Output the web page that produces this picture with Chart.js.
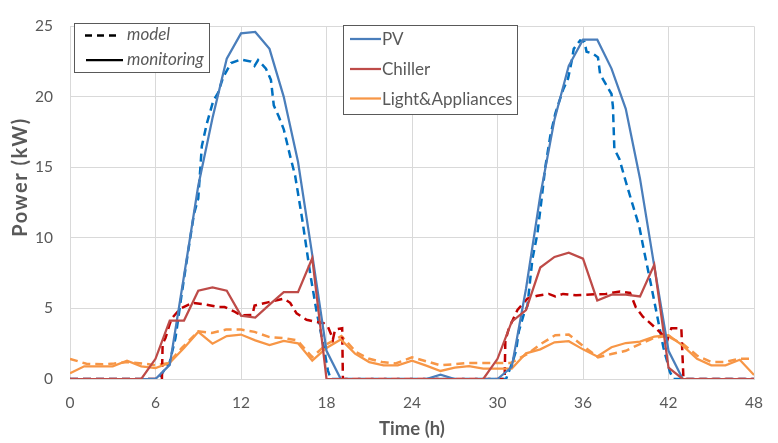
<!DOCTYPE html>
<html>
<head>
<meta charset="utf-8">
<script src="https://cdn.jsdelivr.net/npm/chart.js@4/dist/chart.umd.min.js"></script>
<style>
  html, body { margin: 0; padding: 0; background: #ffffff; }
  #wrap { width: 778px; height: 443px; }
</style>
</head>
<body>
<div id="wrap"><canvas id="chart" width="778" height="443"></canvas></div>
<script>
// Hourly monitoring samples (kW)
const hours = [0,1,2,3,4,5,6,7,8,9,10,11,12,13,14,15,16,17,18,19,20,21,22,23,24,
               25,26,27,28,29,30,31,32,33,34,35,36,37,38,39,40,41,42,43,44,45,46,47,48];
const pvMonitoring = [0,0,0,0,0,0,0, 1.0,7.3,13.7,18.5,22.7,24.5,24.6,23.4,20.0,15.4,8.8,2.0,
                      0,0,0,0,0,0,0, 0.3, 0,0,0,0,
                      0.85,6.4,13.0,18.4,22.2,24.05,24.05,22.0,19.15,14.2,8.0,2.0, 0,0,0,0,0,0];
const chillerMonitoring = [0,0,0,0,0,0, 1.43,4.14,4.14,6.26,6.49,6.26,4.49,4.35,5.27,6.15,6.15,8.56,
                           0,0,0,0,0,0,0,0,0,0,0,0,
                           1.43,4.07,4.88,7.9,8.65,8.96,8.53,5.57,5.98,5.98,5.85,8.1,0.8, 0,0,0,0,0,0];
const lightMonitoring = [0.4,0.9,0.9,0.9,1.3,0.9,0.78,1.15,2.2,3.34,2.5,3.04,3.15,2.74,2.4,2.7,2.53,1.3,
                         2.2,2.8,1.8,1.2,0.97,0.97,1.3,0.95,0.57,0.8,0.92,0.74,0.74,0.74,1.82,2.1,2.6,
                         2.68,2.1,1.6,2.25,2.55,2.65,3.0,3.1,2.37,1.43,0.97,0.97,1.36,0.28];

// Model output (time in h, power in kW)
const pvModelTime = [0,6.2,7.0,7.4,7.85,8.3,8.7,9.0,9.25,9.6,10.05,10.4,10.75,11.3,12.0,12.7,12.95,13.2,
                     13.75,14.1,14.3,14.65,15.0,15.45,15.8,16.3,16.85,17.3,17.8,18.1,18.3,30.6,31.05,31.3,
                     31.5,31.85,32.1,32.45,32.8,33.1,33.35,33.7,34.05,34.6,34.95,35.2,35.35,35.8,36.1,36.25,
                     36.7,37.05,37.2,37.6,38.0,38.1,38.2,38.55,39.0,39.5,39.95,40.3,40.75,41.2,41.65,42.1,
                     42.35,48];
const pvModelKw = [0,0,1.2,2.9,6.1,9.1,11.7,12.8,16.5,18.1,19.7,20.3,21.4,22.4,22.65,22.5,22.2,22.6,
                   22.0,21.2,19.4,18.6,17.7,15.8,14.4,11.3,7.5,4.8,2.3,0.6,0,0,1.2,2.0,
                   3.4,4.6,5.2,8.5,10.3,12.8,15.0,17.2,18.8,20.5,21.3,22.5,23.4,24.0,23.9,23.2,
                   23.05,22.8,21.6,20.9,20.2,19.3,16.3,15.6,14.0,12.3,10.8,9.0,6.8,4.5,2.2,0.5,
                   0,0];
const chillerModelTime = [0,6.45,6.5,6.7,7.0,7.15,7.75,8.6,9.45,10.4,10.85,11.5,12.0,12.8,12.95,13.95,
                          15.0,15.45,15.9,16.6,17.2,17.8,18.1,18.35,18.45,18.6,19.1,19.15,30.5,30.55,
                          30.8,31.4,32.1,32.8,33.6,34.05,34.6,35.5,36.5,37.6,38.6,39.3,39.7,40.2,40.6,
                          41.1,41.55,41.9,42.2,42.9,43.05,48];
const chillerModelKw = [0,0,2.5,2.9,3.9,4.3,5.0,5.4,5.3,5.1,5.1,4.8,4.5,4.55,5.2,5.45,
                        5.7,5.4,4.65,4.2,4.07,3.96,3.7,3.1,2.8,3.5,3.6,0,0,2.7,
                        3.6,4.9,5.7,5.9,6.03,5.85,6.03,5.93,5.99,6.03,6.2,6.1,5.1,4.42,4.07,
                        3.6,3.16,2.7,3.6,3.6,0,0];
const lightModelTime = [0,1.15,2.3,3.1,4.05,5.1,6.0,6.9,7.85,9.0,9.95,10.95,12.0,12.95,14.0,15.0,15.95,
                        17.0,18.0,19.05,20.1,21.0,21.9,22.85,24.0,26.0,27.9,29.0,30.9,32.1,33.0,34.05,
                        35.0,36.0,37.05,38.0,39.0,39.95,41.0,41.9,43.05,44.0,45.0,45.9,47.0,48.0];
const lightModelKw = [1.43,1.08,1.04,1.1,1.2,1.1,0.97,1.13,2.2,3.38,3.27,3.5,3.5,3.34,2.97,2.9,2.74,
                      1.55,2.46,3.04,1.89,1.43,1.2,1.1,1.54,0.97,1.13,1.13,1.13,1.77,2.46,3.1,
                      3.15,2.35,1.54,1.77,2.0,2.46,2.92,3.04,2.46,1.66,1.2,1.2,1.43,1.43];

const xTicks = [0, 6, 12, 18, 24, 30, 36, 42, 48];
const yTicks = [0, 5, 10, 15, 20, 25];
const seriesNames = ['PV', 'Chiller', 'Light&Appliances'];
const styleNames = ['model', 'monitoring'];
const xTitle = 'Time (h)';
const yTitle = 'Power (kW)';

const COL = {
  pv: '#4a7ebb', pvModel: '#0070c0',
  chiller: '#be4b48', chillerModel: '#c00000',
  light: '#f79646', lightModel: '#f79646'
};
const FONT = 'Lato, "Open Sans", sans-serif';
const TEXT = '#595959';
const DASH = [8, 5];

const pairs = (xs, ys) => xs.map((x, i) => ({ x: x, y: ys[i] }));

function solid(label, xs, ys, color) {
  return { label, data: pairs(xs, ys), borderColor: color, backgroundColor: color,
           borderWidth: 2.25, pointRadius: 0, tension: 0, fill: false };
}
function dashed(label, xs, ys, color) {
  return { label, data: pairs(xs, ys), borderColor: color, backgroundColor: color,
           borderWidth: 2.5, borderDash: DASH, pointRadius: 0, tension: 0, fill: false };
}

// Legend boxes and axis titles
const overlay = {
  id: 'overlay',
  afterDraw(chart) {
    const ctx = chart.ctx;
    const area = chart.chartArea;
    ctx.save();

    function frame(x, y, w, h) {
      ctx.fillStyle = '#ffffff';
      ctx.fillRect(x, y, w, h);
      ctx.strokeStyle = '#595959';
      ctx.lineWidth = 1;
      ctx.setLineDash([]);
      ctx.strokeRect(x + 0.5, y + 0.5, w, h);
    }
    function sample(x1, x2, y, color, dash, width) {
      ctx.beginPath();
      ctx.strokeStyle = color;
      ctx.lineWidth = width;
      ctx.setLineDash(dash);
      ctx.moveTo(x1, y);
      ctx.lineTo(x2, y);
      ctx.stroke();
      ctx.setLineDash([]);
    }

    // line-style key
    frame(74, 23, 135, 49);
    sample(85, 121, 35.5, '#000000', [7, 5], 2.5);
    sample(86, 123, 60, '#000000', [], 2.25);
    ctx.fillStyle = TEXT;
    ctx.textAlign = 'left';
    ctx.textBaseline = 'middle';
    ctx.font = 'italic 17px ' + FONT;
    ctx.fillText(styleNames[0], 127, 35);
    ctx.fillText(styleNames[1], 127, 60);

    // series key
    frame(343, 25, 174, 89);
    const keyColors = [COL.pv, COL.chiller, COL.light];
    const keyY = [39, 69, 98.5];
    ctx.font = '17px ' + FONT;
    seriesNames.forEach((name, i) => {
      sample(350, 381, keyY[i], keyColors[i], [], 2.25);
      ctx.fillStyle = TEXT;
      ctx.fillText(name, 382, keyY[i] + 1);
    });

    // axis titles
    ctx.fillStyle = TEXT;
    ctx.textAlign = 'center';
    ctx.textBaseline = 'middle';
    ctx.font = 'bold 18.5px ' + FONT;
    ctx.fillText(xTitle, (area.left + area.right) / 2, 429);
    ctx.translate(21, 177);
    ctx.rotate(-Math.PI / 2);
    ctx.font = 'bold 20px ' + FONT;
    ctx.letterSpacing = '1.5px';
    ctx.fillText(yTitle, 0, 0);
    ctx.restore();
  }
};

new Chart(document.getElementById('chart'), {
  type: 'line',
  data: {
    datasets: [
      solid(seriesNames[1] + ' ' + styleNames[1], hours, chillerMonitoring, COL.chiller),
      solid(seriesNames[0] + ' ' + styleNames[1], hours, pvMonitoring, COL.pv),
      solid(seriesNames[2] + ' ' + styleNames[1], hours, lightMonitoring, COL.light),
      dashed(seriesNames[1] + ' ' + styleNames[0], chillerModelTime, chillerModelKw, COL.chillerModel),
      dashed(seriesNames[0] + ' ' + styleNames[0], pvModelTime, pvModelKw, COL.pvModel),
      dashed(seriesNames[2] + ' ' + styleNames[0], lightModelTime, lightModelKw, COL.lightModel)
    ]
  },
  options: {
    responsive: false,
    animation: false,
    events: [],
    layout: { padding: { top: 17, right: 15, left: 0, bottom: 0 } },
    plugins: { legend: { display: false }, tooltip: { enabled: false }, title: { display: false } },
    scales: {
      x: {
        type: 'linear',
        min: xTicks[0], max: xTicks[xTicks.length - 1],
        afterBuildTicks: s => { s.ticks = xTicks.map(v => ({ value: v })); },
        afterFit: s => { s.height = 64; },
        ticks: { color: TEXT, font: { family: FONT, size: 15.5 }, padding: 15, maxRotation: 0 },
        grid: { color: '#d9d9d9', lineWidth: 1, drawTicks: false },
        border: { color: '#d9d9d9', width: 1 }
      },
      y: {
        min: yTicks[0], max: yTicks[yTicks.length - 1],
        afterBuildTicks: s => { s.ticks = yTicks.map(v => ({ value: v })); },
        afterFit: s => { s.width = 70; },
        ticks: { color: TEXT, font: { family: FONT, size: 15.5 }, padding: 17 },
        grid: { color: '#d9d9d9', lineWidth: 1, drawTicks: false },
        border: { display: false }
      }
    }
  },
  plugins: [overlay]
});
</script>
</body>
</html>
